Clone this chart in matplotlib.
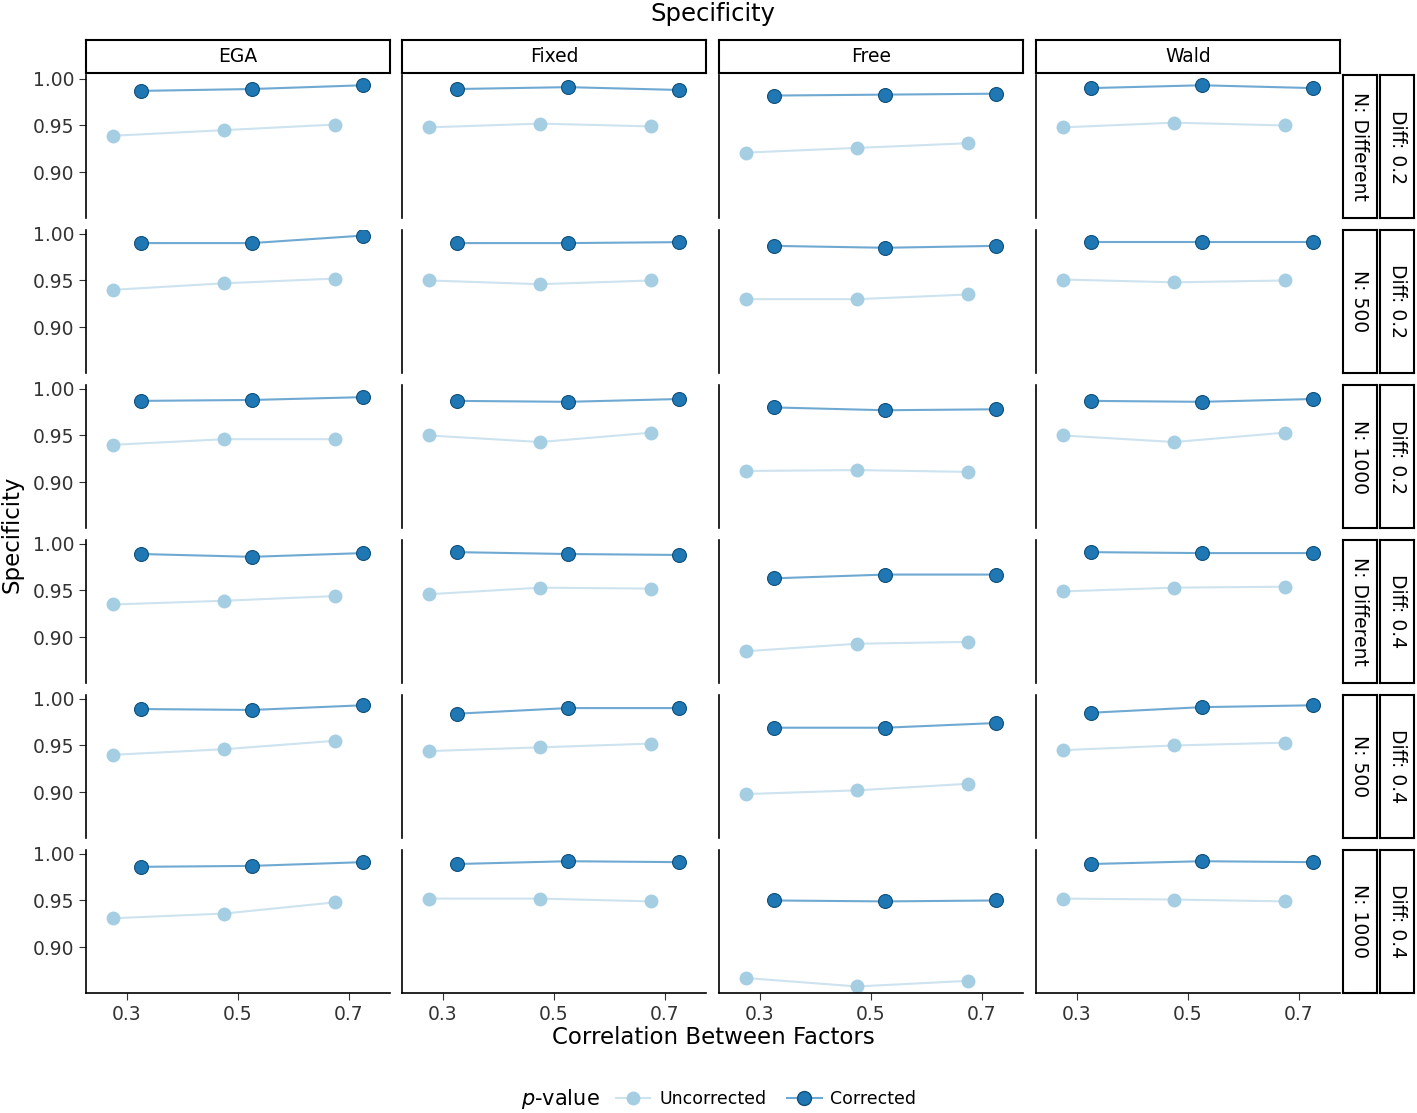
import numpy as np
import matplotlib.pyplot as plt
from matplotlib.lines import Line2D

methods = ['EGA', 'Fixed', 'Free', 'Wald']
row_n = ['N: Different', 'N: 500', 'N: 1000', 'N: Different', 'N: 500', 'N: 1000']
row_diff = ['Diff: 0.2', 'Diff: 0.2', 'Diff: 0.2', 'Diff: 0.4', 'Diff: 0.4', 'Diff: 0.4']
corr = [0.3, 0.5, 0.7]

# uncorrected[row][method] and corrected[row][method]
uncorrected = [
    [[.939, .945, .951], [.948, .952, .949], [.921, .926, .931], [.948, .953, .950]],
    [[.940, .947, .952], [.950, .946, .950], [.930, .930, .935], [.951, .948, .950]],
    [[.940, .946, .946], [.950, .943, .953], [.912, .913, .911], [.950, .943, .953]],
    [[.935, .939, .944], [.946, .953, .952], [.885, .893, .895], [.949, .953, .954]],
    [[.940, .946, .955], [.944, .948, .952], [.898, .902, .909], [.945, .950, .953]],
    [[.931, .936, .948], [.952, .952, .949], [.867, .858, .864], [.952, .951, .949]],
]
corrected = [
    [[.987, .989, .993], [.989, .991, .988], [.982, .983, .984], [.990, .993, .990]],
    [[.990, .990, .998], [.990, .990, .991], [.987, .985, .987], [.991, .991, .991]],
    [[.987, .988, .991], [.987, .986, .989], [.980, .977, .978], [.987, .986, .989]],
    [[.989, .986, .990], [.991, .989, .988], [.963, .967, .967], [.991, .990, .990]],
    [[.989, .988, .993], [.984, .990, .990], [.969, .969, .974], [.985, .991, .993]],
    [[.986, .987, .991], [.989, .992, .991], [.950, .949, .950], [.989, .992, .991]],
]

light = '#a6cee3'
dark = '#1f78b4'
light_line = '#cde3ef'
dark_line = '#6fa9d2'
W, H = 1417, 1113
fig = plt.figure(figsize=(W / 100, H / 100), dpi=100)

def px(x, y, w, h):
    return [x / W, 1 - (y + h) / H, w / W, h / H]

col_x = [86, 402, 719, 1036]
pw = 304
row_y = [75, 230, 385, 540, 695, 850]
ph = 143
fs = 13.5
x = np.array(corr)

for i in range(6):
    for j in range(4):
        ax = fig.add_axes(px(col_x[j], row_y[i], pw, ph))
        ax.plot(x - 0.025, uncorrected[i][j], '-', color=light_line, lw=1.5, zorder=1)
        ax.plot(x + 0.025, corrected[i][j], '-', color=dark_line, lw=1.5, zorder=1)
        ax.plot(x - 0.025, uncorrected[i][j], 'o', color=light, ms=10,
                markeredgewidth=0, zorder=2)
        ax.plot(x + 0.025, corrected[i][j], 'o', color=dark, ms=10,
                markeredgewidth=0.8, markeredgecolor='#0f4f7a', zorder=3)
        ax.set_xlim(0.226, 0.774)
        ax.set_ylim(0.851, 1.004)
        ax.set_xticks(corr)
        ax.set_yticks([0.90, 0.95, 1.00])
        for s in ['top', 'right']:
            ax.spines[s].set_visible(False)
        ax.spines['left'].set_linewidth(1.2)
        ax.spines['bottom'].set_linewidth(1.2)
        if i < 5:
            ax.spines['bottom'].set_visible(False)
            ax.tick_params(axis='x', length=0, labelbottom=False)
        else:
            ax.set_xticklabels(['0.3', '0.5', '0.7'])
            ax.tick_params(axis='x', labelsize=fs, length=5)
        if j > 0:
            ax.tick_params(axis='y', length=0, labelleft=False)
        else:
            ax.set_yticklabels(['0.90', '0.95', '1.00'])
            ax.tick_params(axis='y', labelsize=fs, length=5)
        ax.tick_params(labelcolor='#333333', color='#333333')
        ax.patch.set_alpha(0)

# strips
for j, m in enumerate(methods):
    sx = fig.add_axes(px(col_x[j], 40, pw, 33))
    sx.set_xticks([]); sx.set_yticks([])
    for s in sx.spines.values():
        s.set_linewidth(1.5)
    sx.text(0.5, 0.5, m, ha='center', va='center', fontsize=fs, transform=sx.transAxes)
for i in range(6):
    for lab, xx in [(row_n[i], 1343), (row_diff[i], 1380)]:
        sx = fig.add_axes(px(xx, row_y[i], 34, ph))
        sx.set_xticks([]); sx.set_yticks([])
        for s in sx.spines.values():
            s.set_linewidth(1.5)
        sx.text(0.5, 0.5, lab, ha='center', va='center', fontsize=fs, rotation=-90,
                transform=sx.transAxes)

fig.text(713 / W, 1 - 14 / H, 'Specificity', ha='center', va='center', fontsize=17.5)
fig.text(12 / W, 1 - 534 / H, 'Specificity', ha='center', va='center', fontsize=16.5, rotation=90)
fig.text(713 / W, 1 - 1037 / H, 'Correlation Between Factors', ha='center', va='center', fontsize=16.5)

handles = [Line2D([], [], color=light_line, marker='o', ms=10, lw=1.5,
                  markerfacecolor=light, markeredgewidth=0),
           Line2D([], [], color=dark_line, marker='o', ms=10, lw=1.5,
                  markerfacecolor=dark, markeredgecolor='#0f4f7a')]
fig.text(560 / W, 1 - 1099 / H, r'$p$-value', ha='center', va='center', fontsize=15)
fig.legend(handles, ['Uncorrected', 'Corrected'], loc='center', ncol=2,
           bbox_to_anchor=(766 / W, 1 - 1099 / H), frameon=False, fontsize=12.5,
           handlelength=2, columnspacing=1.2, handletextpad=0.5)

fig.savefig('out.png', dpi=100)
